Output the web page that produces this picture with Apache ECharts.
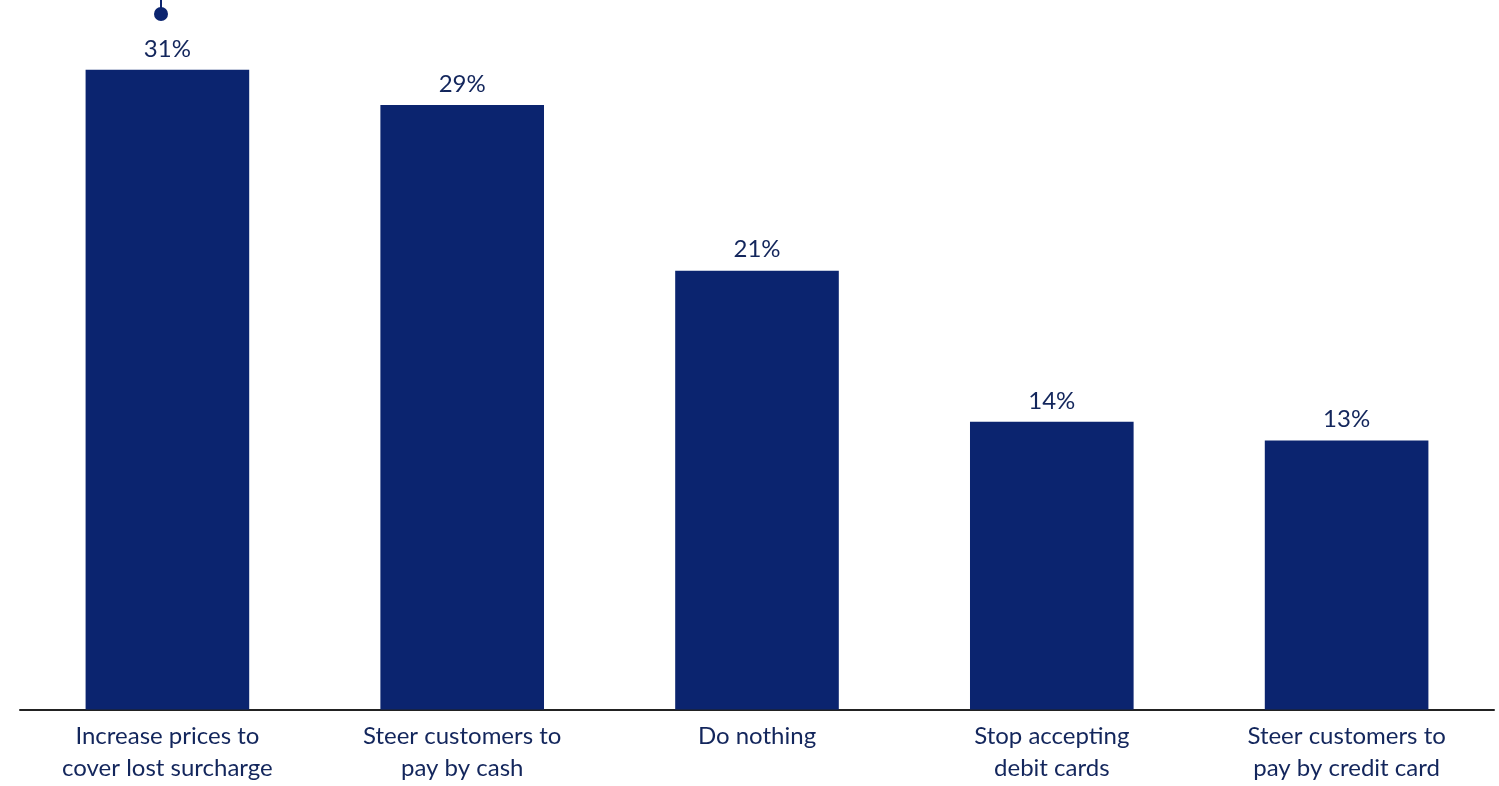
<!DOCTYPE html>
<html>
<head>
<meta charset="utf-8">
<script src="https://cdn.jsdelivr.net/npm/echarts@6/dist/echarts.min.js"></script>
<style>
html,body{margin:0;padding:0;background:#fff;}
#chart{width:1499px;height:786px;}
</style>
</head>
<body>
<div id="chart"></div>
<script>
const categories = [
  "Increase prices to\ncover lost surcharge",
  "Steer customers to\npay by cash",
  "Do nothing",
  "Stop accepting\ndebit cards",
  "Steer customers to\npay by credit card"
];
const shares = [30.9, 29.2, 21.2, 13.9, 13.0];

const navy = "#0b246f";
const textNavy = "#13265c";
const font = "Lato";

const chart = echarts.init(document.getElementById("chart"), null, {renderer: "canvas"});
chart.setOption({
  animation: false,
  backgroundColor: "#ffffff",
  grid: {left: 20, right: 5, top: 5.7, bottom: 76.5, containLabel: false},
  xAxis: {
    type: "category",
    data: categories,
    axisLine: {show: true, lineStyle: {color: "#222222", width: 2}},
    axisTick: {show: false},
    axisLabel: {
      interval: 0,
      color: textNavy,
      fontFamily: font,
      fontSize: 24,
      lineHeight: 32,
      margin: 11
    }
  },
  yAxis: {
    type: "value",
    min: 0,
    max: 34,
    show: false,
    splitLine: {show: false}
  },
  series: [{
    type: "bar",
    data: shares,
    barWidth: "55.5%",
    itemStyle: {color: navy},
    label: {
      show: true,
      position: "top",
      distance: 9,
      color: textNavy,
      fontFamily: font,
      fontSize: 24,
      formatter: p => Math.round(p.value) + "%"
    }
  }],
  graphic: [
    {type: "line", shape: {x1: 161, y1: 0, x2: 161, y2: 12}, style: {stroke: navy, lineWidth: 2}},
    {type: "circle", shape: {cx: 161, cy: 14, r: 7}, style: {fill: navy}}
  ]
});
</script>
</body>
</html>
